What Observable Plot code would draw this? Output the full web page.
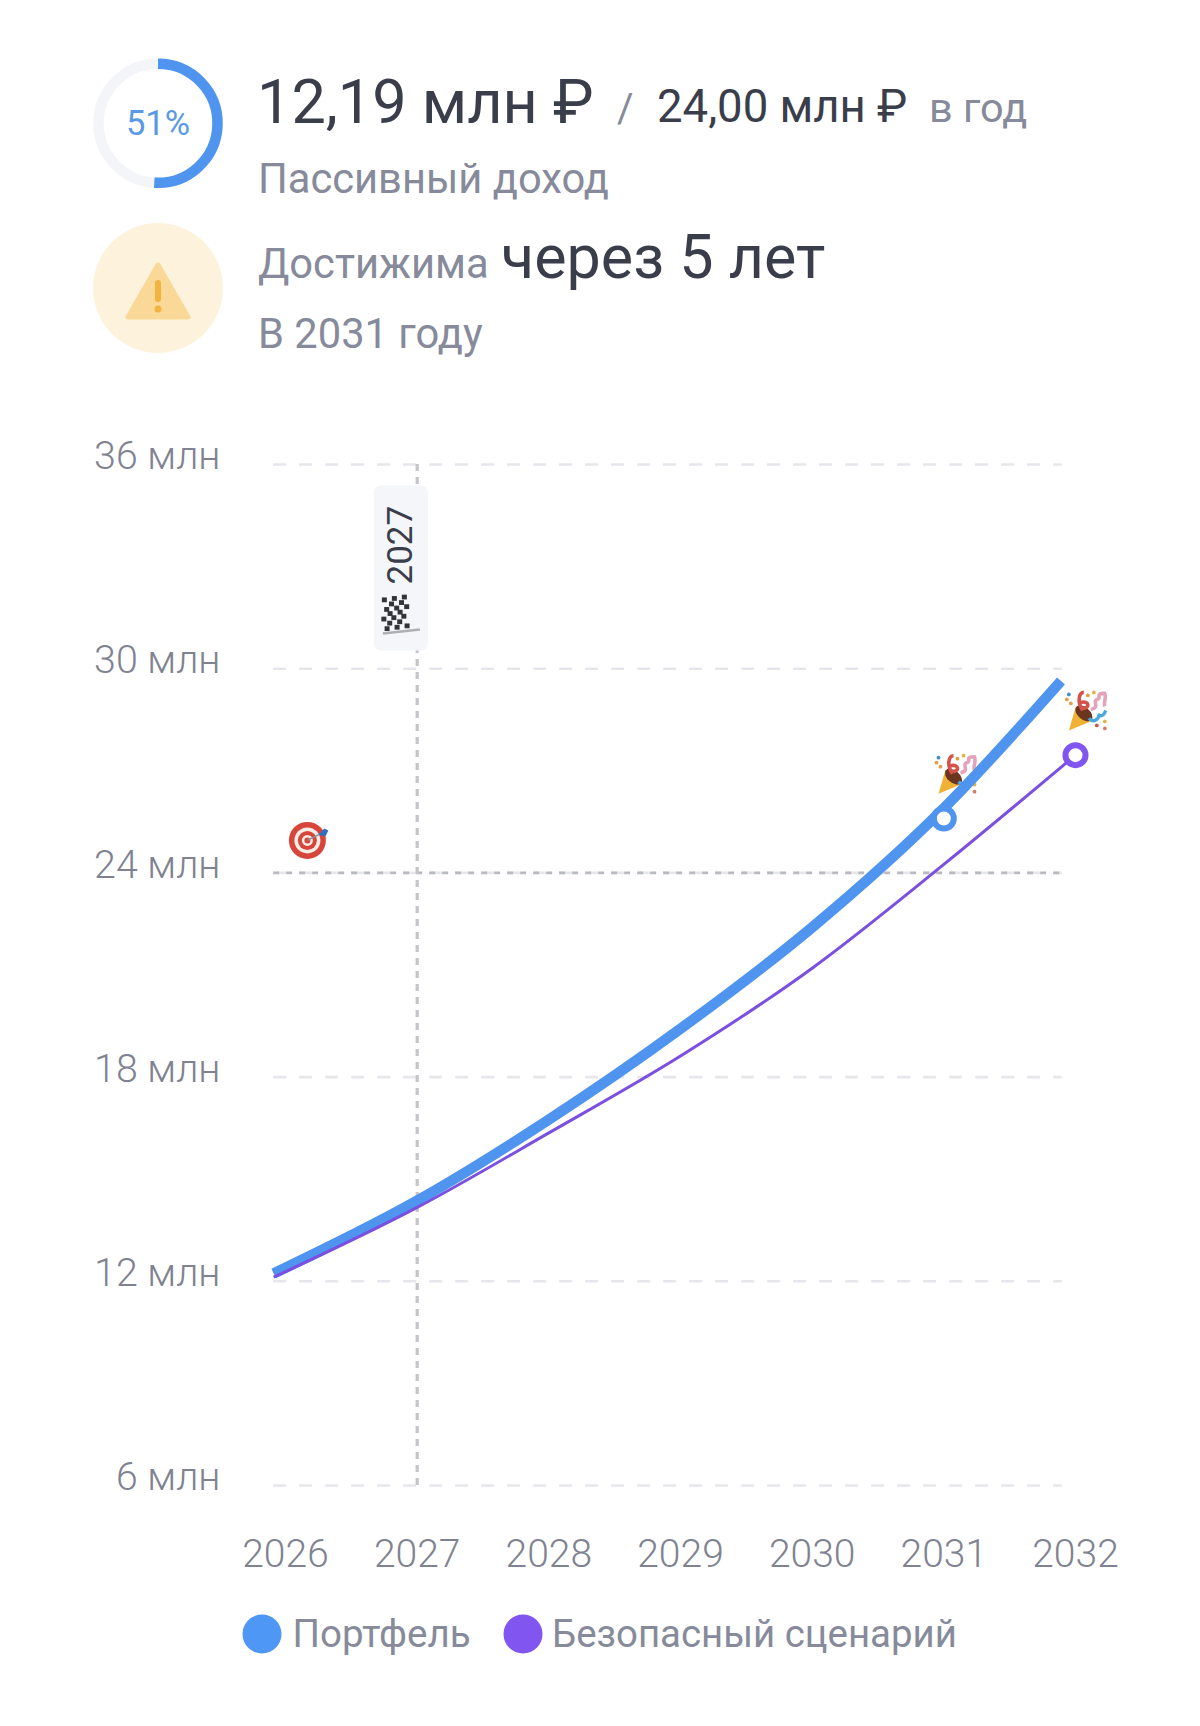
<!DOCTYPE html>
<html lang="ru">
<head>
<meta charset="utf-8">
<script src="https://cdn.jsdelivr.net/npm/d3@7"></script>
<script src="https://cdn.jsdelivr.net/npm/@observablehq/plot@0.6"></script>
<style>
html,body{margin:0;padding:0;background:#fff;width:1200px;height:1726px;overflow:hidden;font-family:Roboto,sans-serif}
svg{display:block}
#header text,#legend text{font-family:Roboto,sans-serif}
</style>
</head>
<body>
<svg id="header" width="1200" height="420" viewBox="0 0 1200 420">
  <circle cx="158" cy="123.3" r="59.5" fill="none" stroke="#f3f5f9" stroke-width="10.5"/>
  <path id="progress" fill="none" stroke="#4f94ef" stroke-width="10.5"/>
  <text x="158" y="135" text-anchor="middle" font-size="34.5" fill="#5a98e8">51%</text>
  <text x="257" y="123" font-size="61.2" fill="#3a3d4a">12,19 млн ₽</text>
  <text x="617" y="122" font-size="40" fill="#868a9a">/</text>
  <text x="657" y="122" font-size="45.5" fill="#3a3d4a">24,00 млн ₽</text>
  <text x="929" y="122" font-size="41.5" fill="#868a9a">в год</text>
  <text x="258" y="193" font-size="41.7" fill="#868a9a">Пассивный доход</text>
  <circle cx="158" cy="288" r="65" fill="#fdf3dd"/>
  <path d="M158 265 L188 317 L128 317 Z" fill="#fad998" stroke="#fad998" stroke-width="5" stroke-linejoin="round"/>
  <rect x="155" y="280" width="6" height="22" rx="3" fill="#f2b33f"/>
  <circle cx="158" cy="309" r="3.5" fill="#f2b33f"/>
  <text x="258" y="278" font-size="41.7" fill="#868a9a">Достижима</text>
  <text x="501" y="278" font-size="61" fill="#3a3d4a">через 5 лет</text>
  <text x="258" y="348" font-size="41.7" fill="#868a9a">В 2031 году</text>
</svg>
<div id="chart"></div>
<svg id="legend" width="1200" height="126" viewBox="0 0 1200 126" style="position:absolute;left:0;top:1600px">
  <circle cx="262" cy="34" r="19.5" fill="#4f97f5"/>
  <text x="292.5" y="47" font-size="38.5" fill="#868a9a">Портфель</text>
  <circle cx="523" cy="34" r="19.5" fill="#8055f0"/>
  <text x="552" y="47" font-size="38.4" fill="#868a9a">Безопасный сценарий</text>
</svg>
<script>
const progressShare = 0.51;
const yearTicks = [2026, 2027, 2028, 2029, 2030, 2031, 2032];
const valueTicks = [6, 12, 18, 24, 30, 36];
const portfolioYears = [2025.91, 2027, 2028, 2029, 2030, 2031, 2031.89];
const portfolioValues = [12.23, 14.37, 16.75, 19.42, 22.4, 25.9, 29.64];
const safeYears = [2025.91, 2027, 2028, 2029, 2030, 2031, 2032];
const safeValues = [12.12, 14.17, 16.36, 18.62, 21.2, 24.25, 27.46];
const gridStart = 2025.91;
const gridEnd = 2031.9;
const goalValue = 24;
const reachedYear = 2027;
const portfolioMarker = {year: 2031, value: 25.6};
const safeMarker = {year: 2032, value: 27.46};
const flagLabel = {x1: 2026.676, x2: 2027.086, y1: 30.52, y2: 35.37, tx: 2027, ty: 33.63, label: "2027"};
const targetIcon = {year: 2026.17, value: 24.94};
const flagIcon = {year: 2026.88, value: 31.55};
const partyIcons = [{year: 2031.1, value: 26.9}, {year: 2032.09, value: 28.76}];

const a = 2 * Math.PI * progressShare, R = 59.5, cx = 158, cy = 123.3;
document.getElementById("progress").setAttribute("d",
  `M${cx} ${cy - R} A${R} ${R} 0 ${progressShare > .5 ? 1 : 0} 1 ${cx + R * Math.sin(a)} ${cy - R * Math.cos(a)}`);

function iconMark(items, draw) {
  return (index, {x, y}) => {
    const g = d3.create("svg:g");
    for (const it of items) {
      const s = g.append("g").attr("transform", `translate(${x(it.year)},${y(it.value)})`);
      draw(s);
    }
    return g.node();
  };
}
function drawTarget(s) {
  s.append("circle").attr("r", 18.5).attr("fill", "#d8453a");
  s.append("circle").attr("r", 13).attr("fill", "#fbeee8");
  s.append("circle").attr("r", 9.5).attr("fill", "#d8453a");
  s.append("circle").attr("r", 5.5).attr("fill", "#fbeee8");
  s.append("circle").attr("r", 3).attr("fill", "#d8453a");
  s.append("line").attr("x1", 0).attr("y1", 0).attr("x2", 14).attr("y2", -7).attr("stroke", "#8a8f98").attr("stroke-width", 1.5);
  s.append("path").attr("d", "M11 -6 L17 -12 L21 -10 L18 -4 Z").attr("fill", "#2f6fc0");
}
function drawFlag(s) {
  const f = s.append("g");
  for (let i = 0; i < 5; i++) for (let j = 0; j < 7; j++) if ((i + j) % 2 === 0)
    f.append("rect").attr("x", -19 + i * 5 + Math.sin(j * 1.1) * 2 + j * 0.35).attr("y", -18 + j * 4.8 - i * 0.7).attr("width", 5).attr("height", 4.8).attr("fill", "#33333a");
  s.append("line").attr("x1", -18).attr("y1", 18).attr("x2", 19).attr("y2", 14).attr("stroke", "#aeb0b4").attr("stroke-width", 2.5);
}
function drawParty(s) {
  s.append("path").attr("d", "M-18 20 L-11 -4 L6 10 Z").attr("fill", "#efb237");
  s.append("ellipse").attr("cx", -3).attr("cy", 3).attr("rx", 10).attr("ry", 6).attr("transform", "rotate(40 -3 3)").attr("fill", "#6b3520");
  s.append("path").attr("d", "M-4 0 C-10 -8 -8 -18 -3 -18 M-6 -8 C3 -10 3 -2 -4 -2").attr("fill", "none").attr("stroke", "#d4534a").attr("stroke-width", 3.6);
  s.append("path").attr("d", "M4 -1 C14 -3 5 -9 10 -11 C16 -12 7 -17 18 -17 C20 -10 16 -8 18 -4").attr("fill", "none").attr("stroke", "#e3a3ba").attr("stroke-width", 3.6).attr("stroke-linejoin", "round");
  s.append("path").attr("d", "M2 8 C8 14 14 6 11 4 C16 8 18 2 19 0").attr("fill", "none").attr("stroke", "#4aa8dc").attr("stroke-width", 3.4);
  for (const [x, y, c] of [[-18, -16, "#3f8fd0"], [-20, -11, "#e2a04a"], [-16, -7, "#e2a04a"], [7, -18, "#e2b54a"], [1, -15, "#d9a040"], [10, 15, "#c4584f"], [18, 18, "#d87a6a"], [18, 11, "#e2b54a"]])
    s.append("circle").attr("cx", x).attr("cy", y).attr("r", 1.9).attr("fill", c);
}

const chart = Plot.plot({
  width: 1200,
  height: 1180,
  marginLeft: 285,
  marginRight: 125,
  marginTop: 44,
  marginBottom: 115,
  style: {fontFamily: "Roboto, sans-serif", background: "transparent"},
  x: {domain: [2026, 2032]},
  y: {domain: [6, 36]},
  marks: [
    Plot.ruleY(valueTicks, {x1: gridStart, x2: gridEnd, y: d => d, stroke: "#e6e7ec", strokeWidth: 2.6, strokeDasharray: "13,13"}),
    Plot.ruleY([goalValue], {x1: gridStart, x2: gridEnd, y: d => d, stroke: "#b9bac0", strokeWidth: 2.6, strokeDasharray: "6,7"}),
    Plot.ruleX([reachedYear], {x: d => d, y1: valueTicks[0], y2: valueTicks[5], stroke: "#c4c5c9", strokeWidth: 3.2, strokeDasharray: "7,6"}),
    Plot.rect([flagLabel], {x1: "x1", x2: "x2", y1: "y1", y2: "y2", fill: "#f4f6fa", rx: 7}),
    Plot.text([flagLabel], {x: "tx", y: "ty", text: "label", rotate: -90, fontSize: 35, fill: "#3a3d4a", dx: -16}),
    iconMark([targetIcon], drawTarget),
    iconMark([flagIcon], drawFlag),
    iconMark(partyIcons, drawParty),
    Plot.line(portfolioYears, {x: d => d, y: (d, i) => portfolioValues[i], stroke: "#4f94ef", strokeWidth: 10.5, curve: "monotone-x", strokeLinecap: "butt"}),
    Plot.line(safeYears, {x: d => d, y: (d, i) => safeValues[i], stroke: "#7a50e0", strokeWidth: 3, curve: "monotone-x", strokeLinecap: "butt"}),
    Plot.dot([portfolioMarker], {x: "year", y: "value", r: 10, fill: "#fff", stroke: "#4f94ef", strokeWidth: 6}),
    Plot.dot([safeMarker], {x: "year", y: "value", r: 10, fill: "#fff", stroke: "#8055f0", strokeWidth: 6}),
    Plot.axisX({ticks: yearTicks, tickFormat: d => String(d), tickSize: 0, tickPadding: 54, fontSize: 39, fontWeight: 300, fill: "#7f8391", label: null}),
    Plot.axisY({ticks: valueTicks, tickFormat: d => d + " млн", tickSize: 0, tickPadding: 65, fontSize: 39.4, fontWeight: 300, fill: "#7f8391", dy: -8, label: null})
  ]
});
document.getElementById("chart").append(chart);
</script>
</body>
</html>
